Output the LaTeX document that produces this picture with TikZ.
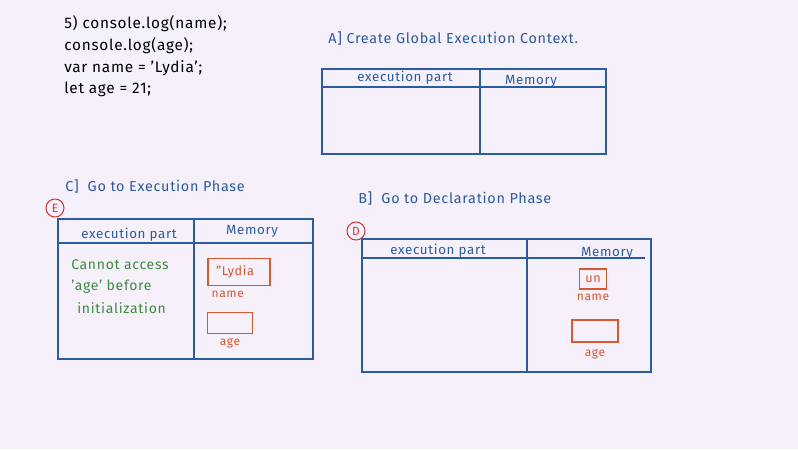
\documentclass[tikz,border=0pt]{standalone}
\usepackage{fontspec}
\setmainfont{Fira Sans}[LetterSpace=5]
\usetikzlibrary{positioning}
\definecolor{bgpaper}{HTML}{F6F0FA}
\definecolor{inkblue}{HTML}{2B5C9E}
\definecolor{inkred}{HTML}{D9562E}
\definecolor{inkgreen}{HTML}{3D8B40}
\definecolor{markred}{HTML}{D23B3B}

\begin{document}
\begin{tikzpicture}[
  x=0.75pt, y=-0.75pt,
  every node/.style = {inner sep=0pt},
  code/.style = {anchor=west, text=black,
    font=\fontsize{11.5}{13}\selectfont},
  title/.style = {anchor=west, text=inkblue,
    font=\fontsize{10.8}{12}\selectfont},
  frame/.style = {draw=inkblue, line width=0.9pt},
  head/.style = {text=inkblue, font=\fontsize{10}{11}\selectfont},
  note/.style = {anchor=west, text=inkgreen,
    font=\fontsize{10.5}{12}\selectfont},
  slot/.style = {draw=inkred, line width=0.8pt, text=inkred,
    font=\fontsize{9.5}{11}\selectfont},
  tag/.style = {text=inkred, font=\fontsize{9}{10}\selectfont},
  circmark/.style = {draw=markred, circle, line width=0.8pt,
    minimum size=13.5pt, text=markred, font=\fontsize{9}{10}\selectfont}]

  \fill[bgpaper] (0,0) rectangle (798,449);
  \useasboundingbox (0,0) rectangle (798,449);

  % source code
  \node[code] (l1) at (64,24) {5) console.log(name);};
  \node[code] (l2) at (64,46) {console.log(age);};
  \node[code] (l3) at (64,68) {var name = 'Lydia';};
  \node[code] (l4) at (64,89) {let age = 21;};

  % A] global context
  \node[title] (tA) at (328,38) {A] Create Global Execution Context.};
  \draw[frame] (322,69) rectangle (606,154);
  \draw[frame] (322,87) -- (606,87);
  \draw[frame] (480,69) -- (480,154);
  \node[head] (exA) at (405,78) {execution part};
  \node[head] (memA) at (531,81) {Memory};

  % C] execution phase
  \node[title] (tC) at (65,186) {C] \ Go to Execution Phase};
  \node[circmark] (mE) at (55,208) {E};
  \draw[frame] (58,219) rectangle (313,359);
  \draw[frame] (58,243) -- (313,243);
  \draw[frame] (194,219) -- (194,359);
  \node[head] (exC) at (129,235) {execution part};
  \node[head] (memC) at (252,231) {Memory};
  \node[note] (n1) at (71,265) {Cannot access};
  \node[note] (n2) at (71,287) {'age' before};
  \node[note] (n3) at (77,308) {initialization};
  \node[slot, inner xsep=6pt, minimum width=46.5pt, minimum height=20pt,
    text width=34.5pt, align=left] (cname) at (239,272) {"Lydia};
  \node[tag, below=4pt of cname.south west, anchor=north west,
    xshift=3pt] (cnameT) {name};
  \node[slot, minimum width=34pt, minimum height=16pt] (cage) at (230,323) {};
  \node[tag, below=3pt of cage] (cageT) {age};

  % B] declaration phase
  \node[title] (tB) at (358,198) {B] \ Go to Declaration Phase};
  \node[circmark] (mD) at (356,231) {D};
  \draw[frame] (362,239) rectangle (651,372);
  \draw[frame] (362,258) -- (645,258);
  \draw[frame] (527,239) -- (527,372);
  \node[head] (exD) at (438,251) {execution part};
  \node[head] (memD) at (607,253) {Memory};
  \node[slot, minimum width=20pt, minimum height=15pt] (dname) at (593,279) {un};
  \node[tag, below=3pt of dname] (dnameT) {name};
  \node[slot, minimum width=34.5pt, minimum height=16.5pt] (dage) at (595,331) {};
  \node[tag, below=5pt of dage] (dageT) {age};
\end{tikzpicture}
\end{document}
